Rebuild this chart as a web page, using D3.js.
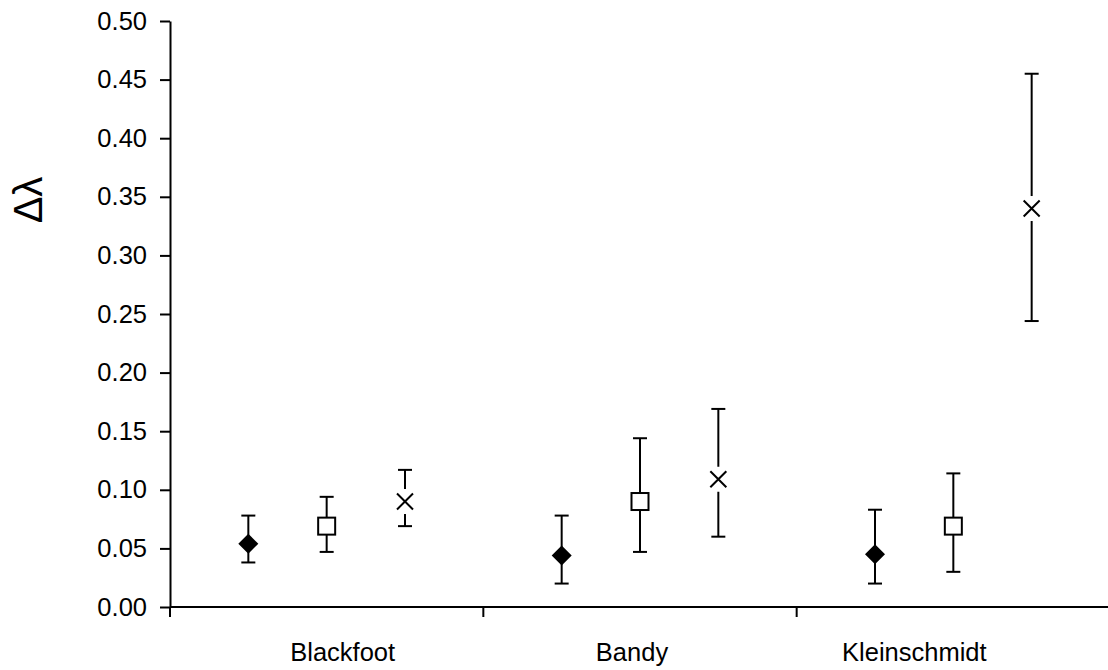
<html>
<head>
<script src="https://cdn.jsdelivr.net/npm/d3@7"></script>
<style>
  body { margin: 0; background: #fff; }
  text { font-family: "Liberation Sans", Arial, sans-serif; fill: #000; }
</style>
</head>
<body>
<svg width="1108" height="670"></svg>
<script>
// sites on the x axis
var sites = ['Blackfoot', 'Bandy', 'Kleinschmidt']
// marker kinds, in order left to right inside each site
var series = ['diamond', 'square', 'cross']
// mean delta lambda, one array per series (site order)
var meanDiamond = [0.054, 0.044, 0.045]
var meanSquare  = [0.069, 0.090, 0.069]
var meanCross   = [0.090, 0.109, 0.340]
// error bar ends
var lowDiamond  = [0.038, 0.020, 0.020]
var highDiamond = [0.078, 0.078, 0.083]
var lowSquare   = [0.047, 0.047, 0.030]
var highSquare  = [0.094, 0.144, 0.114]
var lowCross    = [0.069, 0.060, 0.244]
var highCross   = [0.117, 0.169, 0.455]
var yTicks = [0, 0.05, 0.10, 0.15, 0.20, 0.25, 0.30, 0.35, 0.40, 0.45, 0.50]

var svg = d3.select('svg')

var y = d3.scaleLinear().domain([0, 0.5]).range([607, 21])
var x = d3.scaleBand().domain(sites).range([170, 1110])
var xi = d3.scalePoint().domain(series).range([x.bandwidth() * 0.25, x.bandwidth() * 0.75])

// flatten into points
var means = {diamond: meanDiamond, square: meanSquare, cross: meanCross}
var lows = {diamond: lowDiamond, square: lowSquare, cross: lowCross}
var highs = {diamond: highDiamond, square: highSquare, cross: highCross}
var pts = []
sites.forEach(function(s, i){
  series.forEach(function(k){
    pts.push({site: s, kind: k, v: means[k][i], lo: lows[k][i], hi: highs[k][i]})
  })
})

// y axis
var yAxis = svg.append('g')
  .attr('transform', 'translate(170,0)')
  .call(d3.axisLeft(y).tickValues(yTicks).tickFormat(d3.format('.2f')).tickSize(10).tickSizeOuter(0).tickPadding(13))
yAxis.select('.domain').attr('stroke', '#000').attr('stroke-width', 2)
yAxis.selectAll('.tick line').attr('stroke', '#000').attr('stroke-width', 2)
yAxis.selectAll('.tick text').attr('font-size', 25.5).style('font-family', '"Liberation Sans", Arial, sans-serif')

// x axis (ticks at band edges)
var xg = svg.append('g').attr('transform', 'translate(0,607)')
xg.append('line').attr('x1', 170).attr('x2', 1110).attr('stroke', '#000').attr('stroke-width', 2)
xg.selectAll('.edge').data(sites).enter().append('line')
  .attr('x1', function(d){ return x(d) }).attr('x2', function(d){ return x(d) })
  .attr('y1', 0).attr('y2', 10)
  .attr('stroke', '#000').attr('stroke-width', 2)
var labelShift = [16, -8, -39]
xg.selectAll('.lab').data(sites).enter().append('text')
  .attr('x', function(d, i){ return x(d) + x.bandwidth() / 2 + labelShift[i] })
  .attr('y', 54)
  .attr('text-anchor', 'middle')
  .attr('font-size', 25.5)
  .text(function(d){ return d })

// y title
svg.append('text')
  .attr('transform', 'translate(42,200) rotate(-90)')
  .attr('text-anchor', 'middle')
  .attr('font-size', 40)
  .text('\u0394\u03bb')

// error bars
var g = svg.append('g')
var px = function(d){ return x(d.site) + xi(d.kind) }
g.selectAll('.bar').data(pts).enter().append('line')
  .attr('x1', px).attr('x2', px)
  .attr('y1', function(d){ return y(d.lo) }).attr('y2', function(d){ return y(d.hi) })
  .attr('stroke', '#000').attr('stroke-width', 2)
g.selectAll('.capl').data(pts).enter().append('line')
  .attr('x1', function(d){ return px(d) - 7 }).attr('x2', function(d){ return px(d) + 7 })
  .attr('y1', function(d){ return y(d.lo) }).attr('y2', function(d){ return y(d.lo) })
  .attr('stroke', '#000').attr('stroke-width', 2)
g.selectAll('.caph').data(pts).enter().append('line')
  .attr('x1', function(d){ return px(d) - 7 }).attr('x2', function(d){ return px(d) + 7 })
  .attr('y1', function(d){ return y(d.hi) }).attr('y2', function(d){ return y(d.hi) })
  .attr('stroke', '#000').attr('stroke-width', 2)

// markers
pts.forEach(function(d){
  var cx = px(d), cy = y(d.v)
  if(d.kind == 'diamond'){
    g.append('path')
      .attr('d', 'M' + cx + ',' + (cy - 10) + 'L' + (cx + 10) + ',' + cy + 'L' + cx + ',' + (cy + 10) + 'L' + (cx - 10) + ',' + cy + 'Z')
      .attr('fill', '#000')
  } else if(d.kind == 'square'){
    g.append('rect')
      .attr('x', cx - 8.5).attr('y', cy - 8.5).attr('width', 17).attr('height', 17)
      .attr('fill', '#fff').attr('stroke', '#000').attr('stroke-width', 2)
  } else {
    g.append('rect')
      .attr('x', cx - 6).attr('y', cy - 12.5).attr('width', 12).attr('height', 25)
      .attr('fill', '#fff')
    g.append('path')
      .attr('d', 'M' + (cx - 8) + ',' + (cy - 8) + 'L' + (cx + 8) + ',' + (cy + 8) + 'M' + (cx + 8) + ',' + (cy - 8) + 'L' + (cx - 8) + ',' + (cy + 8))
      .attr('stroke', '#000').attr('stroke-width', 2).attr('fill', 'none')
  }
})
</script>
</body>
</html>
